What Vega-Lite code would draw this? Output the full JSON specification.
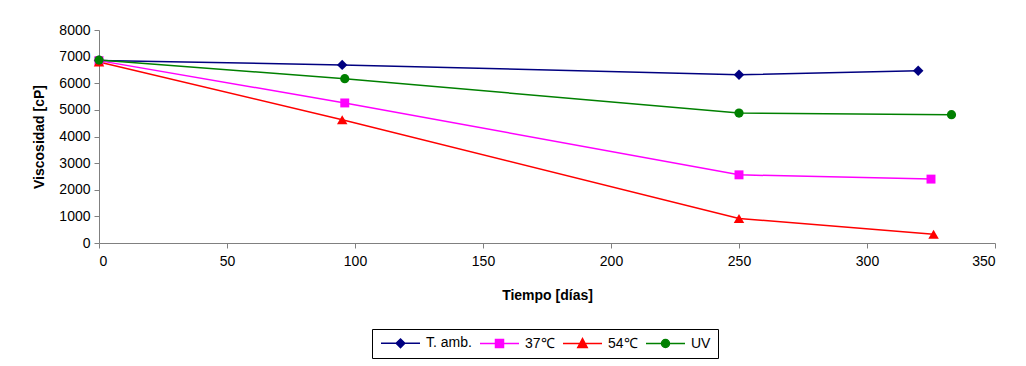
{
  "$schema": "https://vega.github.io/schema/vega-lite/v6.json",
  "width": 896,
  "height": 213,
  "autosize": {"type": "none"},
  "padding": {"left": 99, "top": 30, "right": 31, "bottom": 123},
  "background": "white",
  "config": {
    "view": {"stroke": null},
    "font": "Liberation Sans",
    "axis": {
      "grid": false,
      "domainColor": "#808080",
      "tickColor": "#808080",
      "tickSize": 5,
      "labelFont": "Liberation Sans",
      "labelFontSize": 14,
      "labelColor": "black",
      "titleFont": "Liberation Sans",
      "titleFontSize": 14,
      "titleFontWeight": "bold",
      "titleColor": "black"
    }
  },
  "data": {
    "values": [
      {"serie": "T. amb.", "dias": 0, "visc": 6850},
      {"serie": "T. amb.", "dias": 95, "visc": 6690},
      {"serie": "T. amb.", "dias": 250, "visc": 6320},
      {"serie": "T. amb.", "dias": 320, "visc": 6470},
      {"serie": "37℃", "dias": 0, "visc": 6850},
      {"serie": "37℃", "dias": 96, "visc": 5260},
      {"serie": "37℃", "dias": 250, "visc": 2560},
      {"serie": "37℃", "dias": 325, "visc": 2400},
      {"serie": "54℃", "dias": 0, "visc": 6800},
      {"serie": "54℃", "dias": 95, "visc": 4630},
      {"serie": "54℃", "dias": 250, "visc": 920},
      {"serie": "54℃", "dias": 326, "visc": 330},
      {"serie": "UV", "dias": 0, "visc": 6870},
      {"serie": "UV", "dias": 96, "visc": 6170},
      {"serie": "UV", "dias": 250, "visc": 4880},
      {"serie": "UV", "dias": 333, "visc": 4820}
    ]
  },
  "encoding": {
    "x": {
      "field": "dias",
      "type": "quantitative",
      "title": "Tiempo [días]",
      "scale": {"domain": [0, 350], "nice": false},
      "axis": {"values": [0, 50, 100, 150, 200, 250, 300, 350], "format": "d", "labelPadding": 6, "titlePadding": 20}
    },
    "y": {
      "field": "visc",
      "type": "quantitative",
      "title": "Viscosidad [cP]",
      "scale": {"domain": [0, 8000], "nice": false},
      "axis": {"values": [0, 1000, 2000, 3000, 4000, 5000, 6000, 7000, 8000], "format": "d", "labelPadding": 4, "titlePadding": 12}
    },
    "color": {
      "field": "serie",
      "type": "nominal",
      "scale": {
        "domain": ["T. amb.", "37℃", "54℃", "UV"],
        "range": ["#000080", "#ff00ff", "#ff0000", "#008000"]
      },
      "legend": {
        "title": null,
        "orient": "none",
        "legendX": 273,
        "legendY": 299,
        "direction": "horizontal",
        "strokeColor": "black",
        "padding": 7,
        "labelFontSize": 14,
        "labelColor": "black",
        "labelFont": "Liberation Sans",
        "symbolSize": 100,
        "symbolStrokeWidth": 1.5,
        "symbolOpacity": 1,
        "columnPadding": 5,
        "labelOffset": 33,
        "encode": {
          "symbols": {
            "update": {
              "shape": {"signal": "datum.label === 'T. amb.' ? 'M-1,0H6.8M2.9,-0.86L3.76,0L2.9,0.86L2.04,0Z' : datum.label === 'UV' ? 'M-1,0H6.8M3.7,0A0.8,0.8,0,1,1,2.1,0A0.8,0.8,0,1,1,3.7,0Z' : indexof(datum.label, '37') === 0 ? 'M-1,0H6.8M2.1,-0.8H3.7V0.8H2.1Z' : 'M-1,0H6.8M2.9,-1L3.84,0.8H1.96Z'"},
              "size": {"value": 100},
              "fill": {"signal": "scale('color', datum.value)"},
              "stroke": {"signal": "scale('color', datum.value)"},
              "strokeWidth": {"value": 1.5}
            }
          }
        }
      }
    }
  },
  "layer": [
    {
      "mark": {"type": "line", "strokeWidth": 1.5}
    },
    {
      "transform": [{"filter": "datum.serie === 'T. amb.'"}],
      "mark": {"type": "point", "shape": "diamond", "filled": true, "opacity": 1, "size": 110}
    },
    {
      "transform": [{"filter": "indexof(datum.serie, '37') === 0"}],
      "mark": {"type": "point", "shape": "square", "filled": true, "opacity": 1, "size": 80}
    },
    {
      "transform": [{"filter": "indexof(datum.serie, '54') === 0"}],
      "mark": {"type": "point", "shape": "triangle-up", "filled": true, "opacity": 1, "size": 110}
    },
    {
      "transform": [{"filter": "datum.serie === 'UV'"}],
      "mark": {"type": "point", "shape": "circle", "filled": true, "opacity": 1, "size": 85}
    }
  ]
}
